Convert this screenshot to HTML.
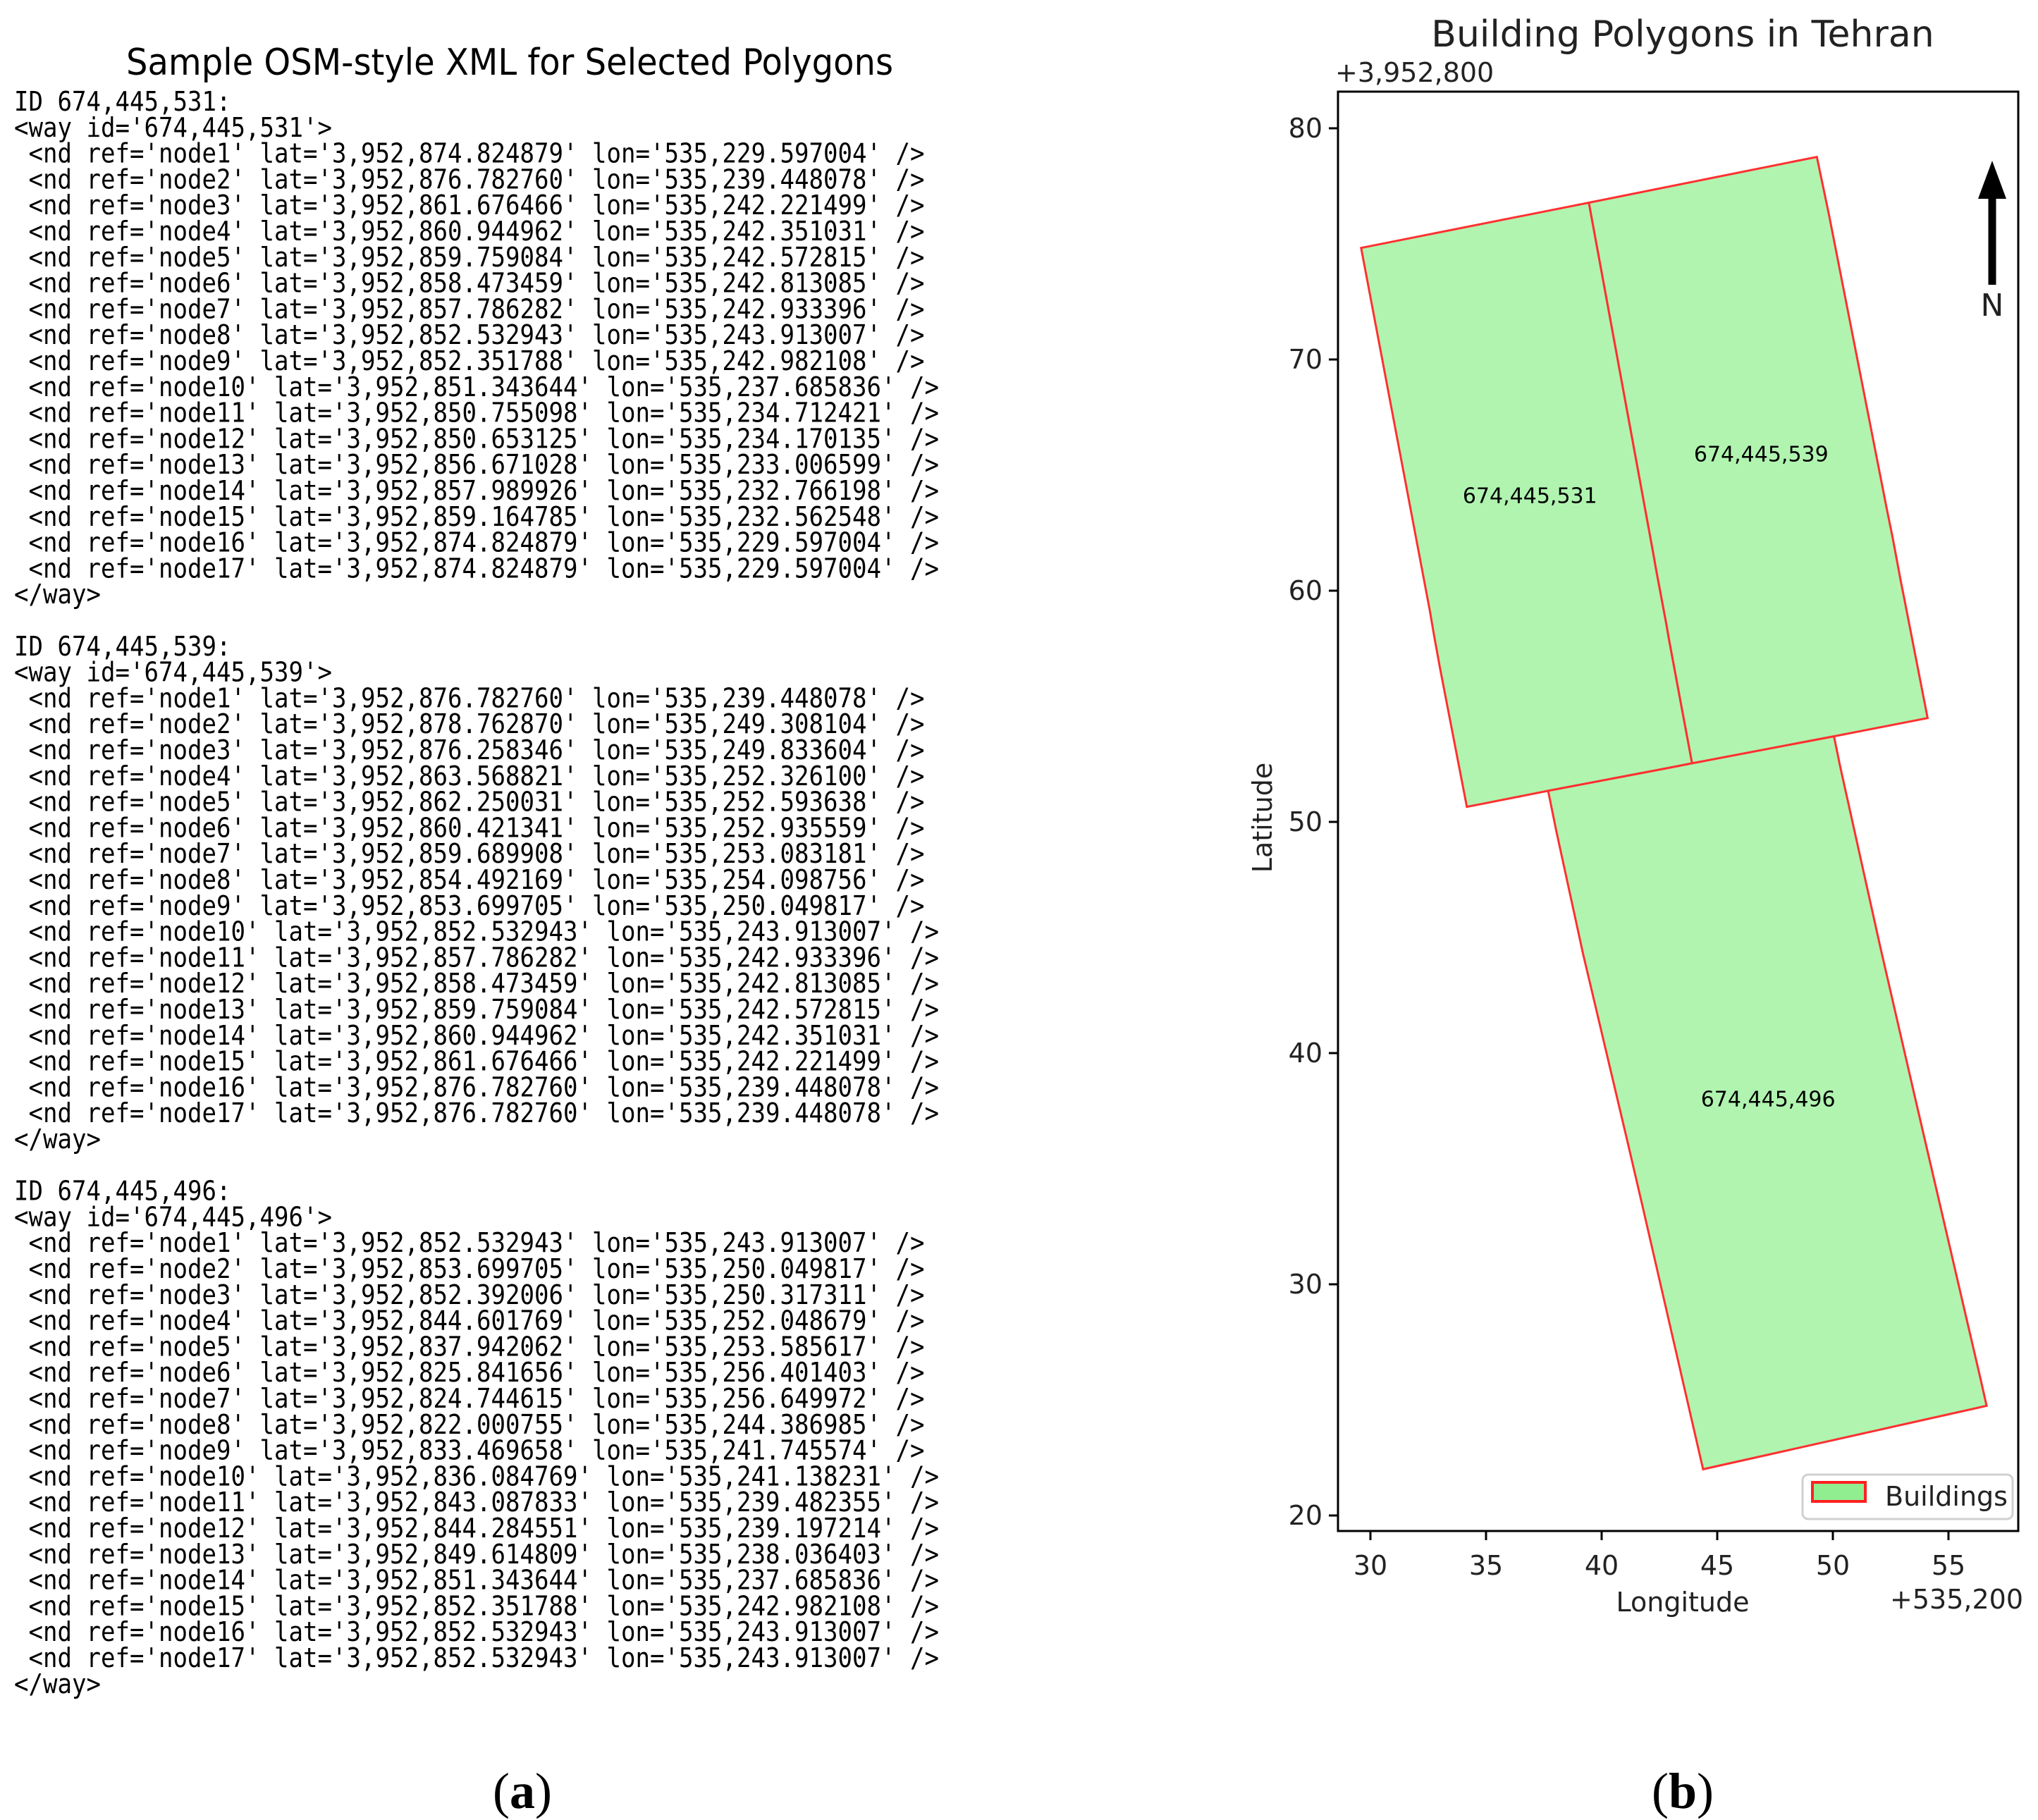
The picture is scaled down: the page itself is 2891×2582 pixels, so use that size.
<!DOCTYPE html>
<html><head><meta charset="utf-8"><style>
html,body{margin:0;padding:0;background:#fff;}
svg{display:block;}
.mono{white-space:pre;}
</style></head><body>
<svg id="fig" width="2891" height="2582" xmlns="http://www.w3.org/2000/svg" font-family="DejaVu Sans, Liberation Sans, sans-serif">
<g id="left"></g>
<g id="right"></g>
</svg>
<script>
const NS='http://www.w3.org/2000/svg';
// ---- chart data ----
const ids=['674,445,531','674,445,539','674,445,496'];
const lon531=[29.597004,39.448078,42.221499,42.351031,42.572815,42.813085,42.933396,43.913007,42.982108,37.685836,34.712421,34.170135,33.006599,32.766198,32.562548,29.597004,29.597004];
const lat531=[74.824879,76.782760,61.676466,60.944962,59.759084,58.473459,57.786282,52.532943,52.351788,51.343644,50.755098,50.653125,56.671028,57.989926,59.164785,74.824879,74.824879];
const lon539=[39.448078,49.308104,49.833604,52.326100,52.593638,52.935559,53.083181,54.098756,50.049817,43.913007,42.933396,42.813085,42.572815,42.351031,42.221499,39.448078,39.448078];
const lat539=[76.782760,78.762870,76.258346,63.568821,62.250031,60.421341,59.689908,54.492169,53.699705,52.532943,57.786282,58.473459,59.759084,60.944962,61.676466,76.782760,76.782760];
const lon496=[43.913007,50.049817,50.317311,52.048679,53.585617,56.401403,56.649972,44.386985,41.745574,41.138231,39.482355,39.197214,38.036403,37.685836,42.982108,43.913007,43.913007];
const lat496=[52.532943,53.699705,52.392006,44.601769,37.942062,25.841656,24.744615,22.000755,33.469658,36.084769,43.087833,44.284551,49.614809,51.343644,52.351788,52.532943,52.532943];
const labelLon=[36.9,46.9,47.2];
const labelLat=[64.1,65.9,38.0];
const xTicks=[30,35,40,45,50,55];
const yTicks=[20,30,40,50,60,70,80];
// ---- axis functions ----
const X0=1898,X1=2863,Y0=130,Y1=2172;
function sx(v){return 1944+(v-30)*32.8;}
function sy(v){return 182+(80-v)*32.8;}

function mk(tag,attrs,parent,text){const e=document.createElementNS(NS,tag);for(const k in attrs)e.setAttribute(k,attrs[k]);if(text!==undefined)e.textContent=text;parent.appendChild(e);return e;}
const R=document.getElementById('right');
const L=document.getElementById('left');

let t=mk('text',{x:723,y:106,'font-size':52,'text-anchor':'middle',textLength:1088,lengthAdjust:'spacingAndGlyphs',fill:'#000'},L,'Sample OSM-style XML for Selected Polygons');


const nodeSets=[[lat531,lon531],[lat539,lon539],[lat496,lon496]];
function fmtLat(v){return '3,952,'+(800+v).toFixed(6);}
function fmtLon(v){return '535,'+(200+v).toFixed(6);}
const lines=[];
for(let s=0;s<3;s++){
  lines.push('ID '+ids[s]+':');
  lines.push("<way id='"+ids[s]+"'>");
  const [la,lo]=nodeSets[s];
  for(let i=0;i<la.length;i++){
    const name='node'+(i+1);
    lines.push(" <nd ref='"+name+"' lat='"+fmtLat(la[i])+"' lon='"+fmtLon(lo[i])+"' />");
  }
  lines.push('</way>');
  if(s<2)lines.push('');
}
lines.forEach((ln,i)=>{
  if(!ln)return;
  const e=mk('text',{x:20,y:157+i*36.8,'font-size':38,'font-family':'DejaVu Sans Mono, Liberation Mono, monospace',textLength:ln.length*20.5,lengthAdjust:'spacingAndGlyphs','class':'mono',fill:'#000'},L,ln.replace(/ /g,'\u00a0'));
  
  
});
t=mk('text',{x:741,y:2565,'font-size':72,'text-anchor':'middle','font-family':'Liberation Serif, serif',fill:'#000'},L,'');
t.innerHTML='(<tspan font-weight="bold">a</tspan>)';



const polys=[[lon531,lat531],[lon539,lat539],[lon496,lat496]];
polys.forEach((p,k)=>{
  const pts=p[0].map((v,i)=>sx(v).toFixed(1)+','+sy(p[1][i]).toFixed(1)).join(' ');
  const e=mk('polygon',{points:pts,fill:'#b0f4b0',stroke:'#ff3030','stroke-width':3,'stroke-linejoin':'miter'},R);
  
  
});
ids.forEach((id,k)=>{
  const e=mk('text',{x:sx(labelLon[k]),y:sy(labelLat[k])+10,'font-size':30,'text-anchor':'middle',fill:'#000'},R,id);
  
  
});
let f=mk('rect',{x:X0,y:Y0,width:X1-X0,height:Y1-Y0,fill:'none',stroke:'#000','stroke-width':3},R);


xTicks.forEach(v=>{
  const l=mk('line',{x1:sx(v),x2:sx(v),y1:Y1,y2:Y1+13,stroke:'#000','stroke-width':3},R);
  
  
  const e=mk('text',{x:sx(v),y:Y1+62,'font-size':38,'text-anchor':'middle',fill:'#222'},R,String(v));
  
  
});
yTicks.forEach(v=>{
  const l=mk('line',{x1:X0-13,x2:X0,y1:sy(v),y2:sy(v),stroke:'#000','stroke-width':3},R);
  
  
  const e=mk('text',{x:X0-22,y:sy(v)+13,'font-size':38,'text-anchor':'end',fill:'#222'},R,String(v));
  
  
});
const txts=[
 ['chart-title',2387,66,52,'middle','Building Polygons in Tehran'],
 ['y-offset',1894,116,38,'start','+3,952,800'],
 ['x-offset',2870,2282,38,'end','+535,200'],
 ['x-axis-title',2387,2286,38,'middle','Longitude'],
 ['north-label',2826,448,44,'middle','N']
];
txts.forEach(a=>{
  const e=mk('text',{x:a[1],y:a[2],'font-size':a[3],'text-anchor':a[4],fill:'#222'},R,a[5]);
  
  
});
let yt=mk('text',{x:0,y:0,'font-size':38,'text-anchor':'middle',fill:'#222',transform:'translate(1804,1160) rotate(-90)'},R,'Latitude');


let ar=mk('line',{x1:2826,x2:2826,y1:404,y2:270,stroke:'#000','stroke-width':11},R);


let ah=mk('polygon',{points:'2806,282 2846,282 2826,228',fill:'#000'},R);


let lg=mk('rect',{x:2557,y:2092,width:298,height:63,rx:8,fill:'#fff',stroke:'#d0d0d0','stroke-width':3},R);


let lp=mk('rect',{x:2571,y:2103,width:75,height:27,fill:'#90ee90',stroke:'#ff2020','stroke-width':4},R);


let lt=mk('text',{x:2674,y:2136,'font-size':38,fill:'#222'},R,'Buildings');


t=mk('text',{x:2387,y:2565,'font-size':72,'text-anchor':'middle','font-family':'Liberation Serif, serif',fill:'#000'},R,'');
t.innerHTML='(<tspan font-weight="bold">b</tspan>)';


</script>
</body></html>
